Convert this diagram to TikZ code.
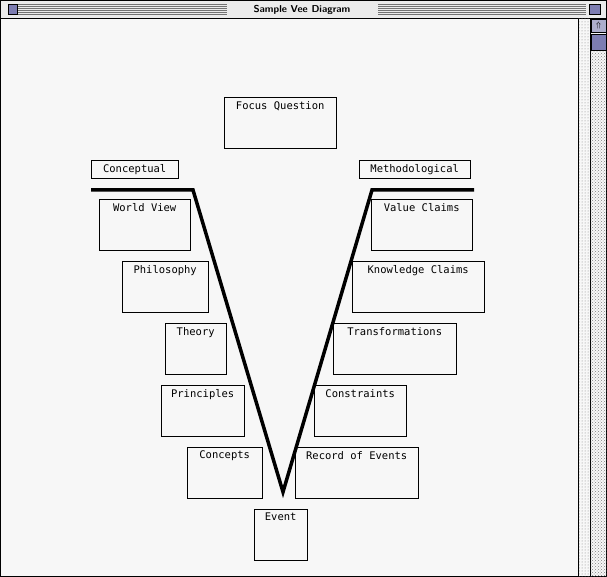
\documentclass[tikz,border=0pt]{standalone}
\usepackage{fontspec}
\setmainfont{DejaVu Sans}
\setmonofont{DejaVu Sans Mono}
\usetikzlibrary{patterns}
\begin{document}
\begin{tikzpicture}[x=1pt,y=-1pt,font=\ttfamily\fontsize{10.5}{11}\selectfont]
    \tikzstyle{box}=[
      rectangle,
      draw=black,
      fill=white!97!black,
      anchor=north west,
      inner sep=0pt,
    ]
    \tikzstyle{caption}=[
      anchor=north,
      inner sep=0pt,
      yshift=-4pt,
    ]
    \tikzstyle{vee}=[line width=3.5pt,draw=black]
    \newcommand{\veebox}[6]{%
      \node[box,minimum width=#4pt,minimum height=#5pt] (#1) at (#2,#3) {};
      \node[caption] (#1text) at (#1.north) {#6};
    }

    % window
    \useasboundingbox (0,0) rectangle (607,577);
    \fill[white!97!black] (0,0) rectangle (607,577);
    \fill[white!92!black] (0,0) rectangle (607,18);
    \foreach \y in {4,6,...,14} {
      \draw[black!55,line width=0.8pt] (18,\y) -- (227,\y);
      \draw[black!55,line width=0.8pt] (378,\y) -- (586,\y);
    }
    \node[font=\bfseries\sffamily\fontsize{10}{10}\selectfont] (title) at (302,9.5) {Sample Vee Diagram};
    \draw[black,fill=white!70!blue!70!black] (8,4) rectangle (17,14);
    \draw[black,fill=white!70!blue!70!black] (589,4) rectangle (600,14);
    \draw[black,line width=1pt] (0,18.5) -- (607,18.5);
    \draw[black] (0.5,0.5) rectangle (606.5,576.5);

    % scrollbar
    \fill[pattern=dots,pattern color=gray] (578,19) rectangle (590,577);
    \draw[black] (578,19) -- (578,577);
    \draw[black] (590,19) -- (590,577);
    \fill[pattern=crosshatch dots,pattern color=gray] (590,52) rectangle (607,577);
    \draw[black,fill=white!85!blue!80!black] (591,19) rectangle (606,32);
    \draw[black,fill=white!70!blue!70!black] (591,34) rectangle (606,50);
    \node[inner sep=0pt,font=\fontsize{8}{8}\selectfont] (uparrow) at (598.5,25.5) {$\Uparrow$};

    % boxes
    \veebox{focus}{224}{97}{112}{51}{Focus Question}
    \veebox{conceptual}{91}{160}{87}{18}{Conceptual}
    \veebox{methodological}{359}{160}{111}{18}{Methodological}
    \veebox{worldview}{99}{199}{91}{51}{World View}
    \veebox{philosophy}{122}{261}{86}{51}{Philosophy}
    \veebox{theory}{165}{323}{61}{51}{Theory}
    \veebox{principles}{161}{385}{83}{51}{Principles}
    \veebox{concepts}{187}{447}{75}{51}{Concepts}
    \veebox{event}{254}{509}{53}{51}{Event}
    \veebox{valueclaims}{371}{199}{101}{51}{Value Claims}
    \veebox{knowledge}{352}{261}{132}{51}{Knowledge Claims}
    \veebox{transformations}{333}{323}{123}{51}{Transformations}
    \veebox{constraints}{314}{385}{92}{51}{Constraints}
    \veebox{record}{295}{447}{123}{51}{Record of Events}

    % the vee
    \coordinate (leftend) at (91,190);
    \coordinate (leftcorner) at (193,190);
    \coordinate (tip) at (283,492);
    \coordinate (rightcorner) at (372,190);
    \coordinate (rightend) at (474,190);
    \draw[vee] (leftend) -- (leftcorner) -- (tip) -- (rightcorner) -- (rightend);
\end{tikzpicture}
\end{document}
